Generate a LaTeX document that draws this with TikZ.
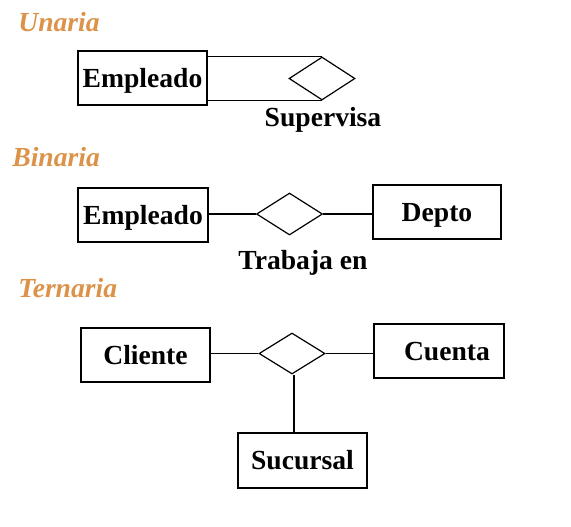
\documentclass[tikz,border=0pt]{standalone}
\usepackage{fontspec}
\setmainfont{Liberation Serif}
\usepackage{xcolor}
\usepackage{tikz}
\usetikzlibrary{positioning, shapes.geometric}
\definecolor{naranja}{RGB}{220,146,72}

\begin{document}
\begin{tikzpicture}[x=0.5pt, y=-0.5pt,
  entidad/.style={rectangle, draw=black, line width=0.65pt, inner sep=0pt,
    minimum width=64.5pt, minimum height=27pt, text height=9.4pt, text depth=0pt,
    font=\fontsize{13.8}{16}\selectfont\bfseries},
  relacion/.style={diamond, draw=black, line width=0.6pt, inner sep=0pt,
    minimum width=33pt, minimum height=21pt},
  titulo/.style={anchor=west, inner sep=0pt, text=naranja, font=\fontsize{13.8}{16}\selectfont\bfseries\itshape},
  etiqueta/.style={inner sep=0pt, text height=9.4pt, text depth=0pt, font=\fontsize{13.8}{16}\selectfont\bfseries}
]
  \useasboundingbox (0,0) rectangle (571,526);

  % Unaria
  \node[titulo] (tun) at (18, 22) {Unaria};
  \node[entidad] (emp1) at (142.5, 78) {Empleado};
  \node[relacion, minimum height=21.5pt] (sup) at (322, 78.5) {};
  \node[etiqueta] (lblsup) at (323, 117) {Supervisa};
  \draw[line width=0.6pt] (emp1.east |- sup.north) -- (sup.north);
  \draw[line width=0.6pt] (emp1.east |- sup.south) -- (sup.south);

  % Binaria
  \node[titulo] (tbi) at (12, 157) {Binaria};
  \node[entidad, minimum width=65pt] (emp2) at (143, 215) {Empleado};
  \node[relacion] (trab) at (289.5, 214) {};
  \node[entidad, minimum width=64pt] (depto) at (437, 212) {Depto};
  \node[etiqueta] (lbltrab) at (303, 260) {Trabaja en};
  \draw[line width=0.6pt] (trab.west) -- (trab.west -| emp2.east);
  \draw[line width=0.6pt] (trab.east) -- (trab.east -| depto.west);

  % Ternaria
  \node[titulo] (tter) at (18, 288) {Ternaria};
  \node[entidad] (cli) at (145.5, 355) {Cliente};
  \node[relacion, minimum height=20.5pt] (rel3) at (292, 353.5) {};
  \node[entidad, minimum width=65pt] (cta) at (439, 351) {\hspace{8pt}Cuenta};
  \node[entidad, minimum height=27.5pt] (suc) at (302.5, 460.5) {Sucursal};
  \draw[line width=0.6pt] (rel3.west) -- (rel3.west -| cli.east);
  \draw[line width=0.6pt] (rel3.east) -- (rel3.east -| cta.west);
  \draw[line width=1pt] ([xshift=1pt]rel3.south) -- ([xshift=1pt]rel3.south |- suc.north);
\end{tikzpicture}
\end{document}
